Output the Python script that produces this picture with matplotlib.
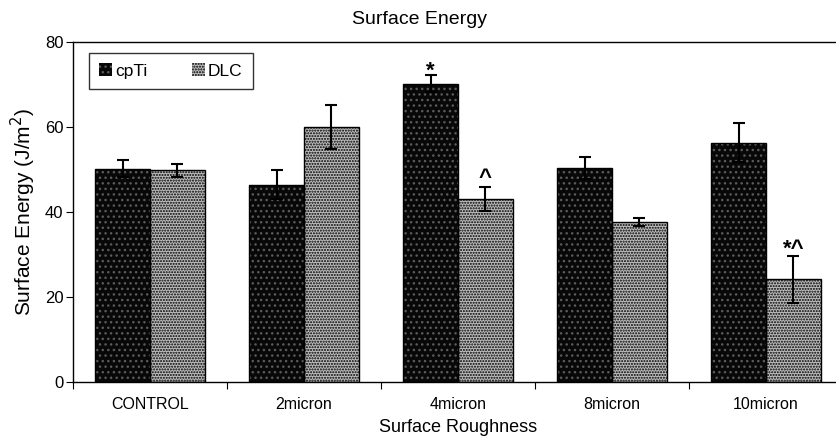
import matplotlib
matplotlib.use("Agg")
import matplotlib.pyplot as plt
import numpy as np
from matplotlib.patches import Patch

plt.rcParams['font.family'] = ['Liberation Sans', 'DejaVu Sans']

categories = ["CONTROL", "2micron", "4micron", "8micron", "10micron"]
cpti = [50.2, 46.4, 70.2, 50.3, 56.3]
cpti_err = [2.0, 3.4, 2.0, 2.6, 4.6]
dlc = [49.8, 60.0, 43.1, 37.7, 24.2]
dlc_err = [1.6, 5.2, 2.9, 1.0, 5.5]
series_names = ["cpTi", "DLC"]
marks_cpti = ["", "", "*", "", ""]
marks_dlc = ["", "", "^", "", "*^"]

fig = plt.figure(figsize=(8.36, 4.45), dpi=100)
ax = fig.add_axes([73/836, 1-382/445, 770/836, 340/445])

x = np.arange(len(categories)) + 0.5
w = 0.357

cp_face, cp_hatch, cp_hc = '#080808', '...', '#5a5a5a'
dl_face, dl_hatch, dl_hc = '#bcbcbc', '......', '#000000'

ax.bar(x - w/2, cpti, w, color=cp_face, edgecolor=cp_hc, hatch=cp_hatch, linewidth=0, zorder=2)
ax.bar(x + w/2, dlc, w, color=dl_face, edgecolor=dl_hc, hatch=dl_hatch, linewidth=0, zorder=2)
ax.bar(x - w/2, cpti, w, fill=False, edgecolor='black', linewidth=1, zorder=3)
ax.bar(x + w/2, dlc, w, fill=False, edgecolor='black', linewidth=1, zorder=3)

ax.errorbar(x - w/2, cpti, yerr=cpti_err, fmt='none', ecolor='black', capsize=4, elinewidth=1.5, capthick=1.5, zorder=4)
ax.errorbar(x + w/2, dlc, yerr=dlc_err, fmt='none', ecolor='black', capsize=4, elinewidth=1.5, capthick=1.5, zorder=4)

mark_offset = {"*": -1.0, "^": 1.5, "*^": 0.5}
for xs, vals, errs, marks in ((x - w/2, cpti, cpti_err, marks_cpti), (x + w/2, dlc, dlc_err, marks_dlc)):
    for xi, v, e, m in zip(xs, vals, errs, marks):
        if m:
            ax.annotate(m, (xi, v + e), xytext=(0, mark_offset[m]), textcoords='offset points',
                        ha='center', va='baseline', fontsize=16, fontweight='bold', zorder=5)

ax.set_xlim(0, len(categories))
ax.set_ylim(0, 80)
ax.set_yticks([0, 20, 40, 60, 80])
ax.set_xticks(np.arange(len(categories) + 1))
ax.set_xticklabels([])
ax.set_xticks(x, minor=True)
ax.set_xticklabels(categories, minor=True, fontsize=11.5)
ax.tick_params(axis='x', which='minor', length=0, pad=11)
ax.tick_params(axis='x', which='major', length=5, direction='out')
ax.tick_params(axis='y', length=5, direction='out', labelsize=12, pad=2)
for s in ax.spines.values():
    s.set_linewidth(1.0)

ax.set_ylabel("Surface Energy (J/m$^2$)", fontsize=15, labelpad=5)
ax.set_xlabel("Surface Roughness", fontsize=13, labelpad=5)
fig.text(420/836, 1-19/445, "Surface Energy", ha='center', va='center', fontsize=14)

handles = [Patch(facecolor=cp_face, edgecolor=cp_hc, hatch=cp_hatch, linewidth=0),
           Patch(facecolor=dl_face, edgecolor=dl_hc, hatch=dl_hatch, linewidth=0)]
leg = ax.legend(handles, series_names, ncol=2, loc='upper left', bbox_to_anchor=(16/770, 1-11/340),
                frameon=True, fancybox=False, edgecolor='black', fontsize=12.5,
                handlelength=0.75, handleheight=0.75, handletextpad=0.15, columnspacing=2.6,
                borderpad=0.6, borderaxespad=0)
leg.get_frame().set_linewidth(1.0)

fig.savefig("out.png", dpi=100)
